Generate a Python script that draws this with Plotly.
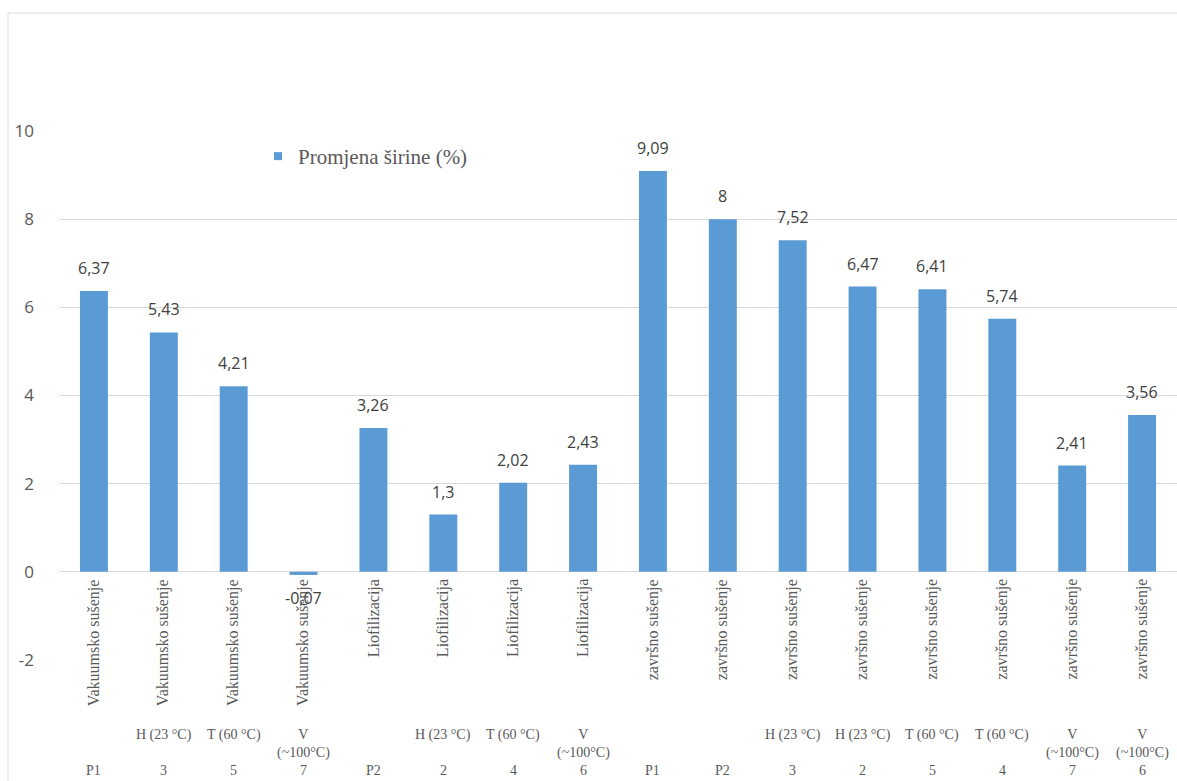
import plotly.graph_objects as go

# ---- data ----
methods = ["Vakuumsko sušenje", "Vakuumsko sušenje", "Vakuumsko sušenje", "Vakuumsko sušenje",
           "Liofilizacija", "Liofilizacija", "Liofilizacija", "Liofilizacija",
           "završno sušenje", "završno sušenje", "završno sušenje", "završno sušenje",
           "završno sušenje", "završno sušenje", "završno sušenje", "završno sušenje"]
conditions = ["", "H (23 °C)", "T (60 °C)", "V<br>(~100°C)",
              "", "H (23 °C)", "T (60 °C)", "V<br>(~100°C)",
              "", "", "H (23 °C)", "H (23 °C)", "T (60 °C)", "T (60 °C)", "V<br>(~100°C)", "V<br>(~100°C)"]
samples = ["P1", "3", "5", "7", "P2", "2", "4", "6", "P1", "P2", "3", "2", "5", "4", "7", "6"]
values = [6.37, 5.43, 4.21, -0.07, 3.26, 1.3, 2.02, 2.43, 9.09, 8, 7.52, 6.47, 6.41, 5.74, 2.41, 3.56]
series_name = "Promjena širine (%)"
y_ticks = [-2, 0, 2, 4, 6, 8, 10]

BAR = "#5B9BD5"
GRID = "#D9D9D9"
SERIF = "Liberation Serif, Times New Roman, serif"
SANS = "Open Sans, sans-serif"

W, H = 1177, 781
L, R, T, B = 59, 0, 131, 121
PLOT_H = H - T - B

idx = list(range(len(values)))

fig = go.Figure()
fig.add_trace(go.Bar(x=idx, y=values, marker=dict(color=BAR, line=dict(width=0)),
                     width=0.4, showlegend=False, name=series_name))
# legend key
fig.add_trace(go.Scatter(x=[None], y=[None], mode="markers", name=series_name,
                         marker=dict(symbol="square", size=8, color=BAR)))

ann = []
# data labels
for i, v in zip(idx, values):
    ann.append(dict(x=i, y=v, xref="x", yref="y", text=f"{v:g}".replace(".", ","),
                    showarrow=False, yanchor="middle", xanchor="center",
                    yshift=23 if v >= 0 else -23,
                    font=dict(family=SANS, size=16, color="#404040")))
# category labels (multi-level)
for i in idx:
    ann.append(dict(x=i, y=0, xref="x", yref="y", text=methods[i], textangle=-90,
                    showarrow=False, xanchor="center", yanchor="top", yshift=-5,
                    font=dict(family=SERIF, size=16, color="#595959")))
    if conditions[i]:
        ann.append(dict(x=i, y=0, xref="x", yref="y", text=conditions[i],
                        showarrow=False, xanchor="center", yanchor="top", yshift=-(725 - 572),
                        font=dict(family=SERIF, size=14, color="#595959")))
    ann.append(dict(x=i, y=0, xref="x", yref="y", text=samples[i],
                    showarrow=False, xanchor="center", yanchor="top", yshift=-(761 - 572),
                    font=dict(family=SERIF, size=14, color="#595959")))

fig.update_layout(
    width=W, height=H,
    margin=dict(l=L, r=R, t=T, b=B, pad=0),
    paper_bgcolor="white", plot_bgcolor="white",
    bargap=0.6,
    annotations=ann,
    showlegend=True,
    legend=dict(x=(258 - L) / (W - L - R), y=1 - (136 - T) / PLOT_H, xanchor="left", yanchor="top",
                bgcolor="rgba(0,0,0,0)", itemwidth=30,
                font=dict(family=SERIF, size=21, color="#595959")),
    xaxis=dict(range=[-0.5, len(values) - 0.5], showticklabels=False, showgrid=False,
               zeroline=False, showline=False, ticks=""),
    yaxis=dict(range=[y_ticks[0], y_ticks[-1]], tickvals=y_ticks,
               ticktext=[str(t) for t in y_ticks],
               showgrid=True, gridcolor=GRID, gridwidth=1,
               zeroline=True, zerolinecolor=GRID, zerolinewidth=1,
               showline=False, ticks="", ticklabelstandoff=24,
               tickfont=dict(family=SANS, size=17, color="#595959")),
    shapes=[dict(type="rect", xref="paper", yref="paper",
                 x0=(8 - L) / (W - L - R), x1=1.2,
                 y0=-0.5, y1=1 + (T - 13) / PLOT_H,
                 line=dict(color=GRID, width=1), fillcolor="rgba(0,0,0,0)", layer="below")],
)

fig.write_html("out.html")
